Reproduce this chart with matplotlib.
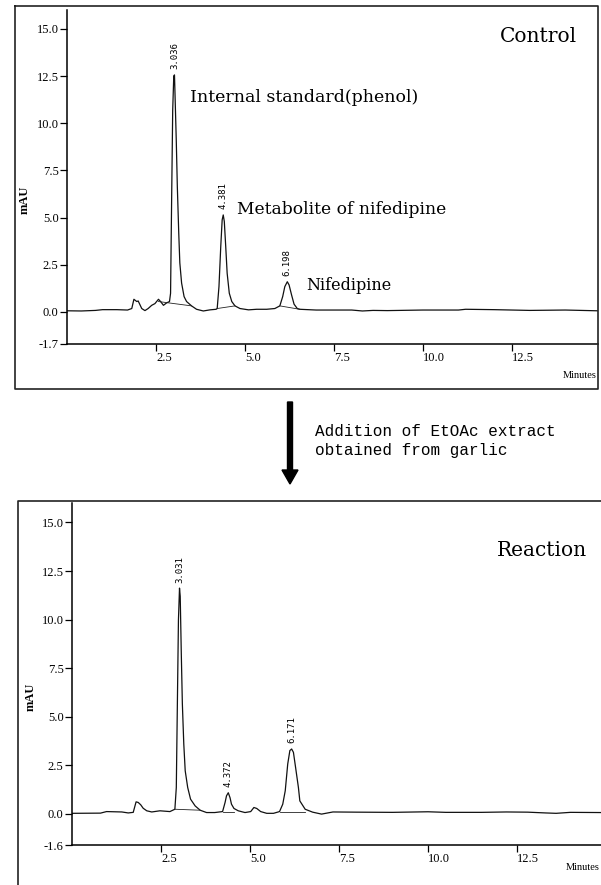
import matplotlib
matplotlib.use("Agg")
import matplotlib.pyplot as plt
from matplotlib.patches import FancyArrow

# Control run: retention time (min) and absorbance (mAU)
ctrl_time = [0.0, 0.4, 0.8, 1.0, 1.4, 1.7, 1.82, 1.88, 1.96, 2.0, 2.10, 2.19, 2.28,
             2.38, 2.47, 2.57, 2.63, 2.71, 2.80, 2.88, 2.91, 2.94, 2.97, 3.0, 3.02,
             3.04, 3.07, 3.10, 3.14, 3.17, 3.22, 3.29, 3.36, 3.5, 3.64, 3.83, 4.02,
             4.19, 4.22, 4.27, 4.32, 4.36, 4.39, 4.42, 4.46, 4.50, 4.56, 4.63, 4.72,
             4.86, 5.10, 5.33, 5.61, 5.84, 5.98, 6.06, 6.12, 6.19, 6.24, 6.31, 6.38,
             6.47, 6.54, 7.0, 8.0, 8.3, 8.6, 9.0, 10.0, 11.0, 11.2, 12.0, 13.0, 14.0, 14.9]
ctrl_mau = [0.06, 0.05, 0.08, 0.12, 0.12, 0.10, 0.18, 0.67, 0.55, 0.58, 0.18, 0.07, 0.18,
            0.35, 0.44, 0.67, 0.55, 0.35, 0.48, 0.55, 0.99, 5.94, 10.7, 12.5, 12.56,
            11.2, 9.1, 6.64, 4.17, 2.6, 1.53, 0.81, 0.55, 0.32, 0.14, 0.05, 0.11,
            0.14, 0.18, 1.34, 3.46, 4.88, 5.14, 4.79, 3.46, 2.05, 0.99, 0.55, 0.32,
            0.18, 0.11, 0.14, 0.14, 0.18, 0.32, 0.81, 1.34, 1.6, 1.43, 0.9, 0.41,
            0.18, 0.14, 0.10, 0.10, 0.05, 0.08, 0.07, 0.10, 0.10, 0.14, 0.12, 0.08, 0.10, 0.06]
ctrl_base = [(2.57, 3.5, 0.55, 0.32), (4.22, 4.72, 0.18, 0.32), (5.98, 6.54, 0.32, 0.14)]
ctrl_peaks = [3.036, 4.381, 6.198]

# Reaction run (after adding EtOAc extract of garlic)
reac_time = [0.0, 0.8, 0.97, 1.4, 1.58, 1.72, 1.80, 1.86, 1.93, 2.0, 2.10, 2.24, 2.47,
             2.75, 2.89, 2.93, 2.96, 2.99, 3.02, 3.04, 3.07, 3.10, 3.14, 3.18, 3.25,
             3.33, 3.46, 3.6, 3.78, 4.01, 4.23, 4.30, 4.34, 4.39, 4.44, 4.48, 4.55,
             4.67, 4.86, 5.02, 5.11, 5.19, 5.30, 5.47, 5.66, 5.83, 5.92, 5.99, 6.06,
             6.12, 6.17, 6.22, 6.28, 6.36, 6.40, 6.55, 6.76, 7.01, 7.33, 8.0, 9.0,
             10.0, 10.5, 11.5, 12.2, 12.8, 13.3, 13.6, 14.0, 14.86]
reac_mau = [0.03, 0.04, 0.12, 0.10, 0.05, 0.08, 0.62, 0.59, 0.47, 0.29, 0.16, 0.10, 0.16,
            0.12, 0.24, 1.36, 5.67, 9.98, 11.62, 11.2, 8.26, 5.67, 3.6, 2.22, 1.36,
            0.76, 0.41, 0.19, 0.07, 0.07, 0.12, 0.59, 0.93, 1.09, 0.83, 0.5, 0.28,
            0.16, 0.07, 0.12, 0.33, 0.28, 0.12, 0.03, 0.03, 0.12, 0.5, 1.19, 2.57,
            3.26, 3.34, 3.17, 2.4, 1.36, 0.67, 0.24, 0.09, -0.01, 0.10, 0.09, 0.08,
            0.11, 0.08, 0.08, 0.10, 0.09, 0.05, 0.03, 0.08, 0.07]
reac_base = [(2.89, 3.6, 0.24, 0.19), (4.23, 4.55, 0.12, 0.12), (5.83, 6.55, 0.12, 0.12)]
reac_peaks = [3.031, 4.372, 6.171]

x_ticks = [2.5, 5.0, 7.5, 10.0, 12.5]

fig = plt.figure(figsize=(6.01, 8.85), dpi=100)
serif = "DejaVu Serif"
tick_font = "Liberation Serif"


def draw_panel(ax, time, mau, base, peaks, ymin, xmax):
    ax.set_facecolor("none")
    ax.plot(time, mau, color="#111111", lw=0.9)
    for t0, t1, v0, v1 in base:
        ax.plot([t0, t1], [v0, v1], color="#222222", lw=0.6)
    ax.set_xlim(0, xmax)
    ax.set_ylim(ymin, 16.0)
    yt = [ymin, 0.0, 2.5, 5.0, 7.5, 10.0, 12.5, 15.0]
    ax.set_yticks(yt)
    ax.set_yticklabels([f"{v:.1f}" for v in yt], family=tick_font, fontsize=9)
    ax.set_xticks(x_ticks)
    ax.set_xticklabels([f"{v:.1f}" for v in x_ticks], family=tick_font, fontsize=9,
                       ha="left")
    ax.tick_params(axis="both", direction="out", length=5, width=0.9, pad=1)
    for s in ("top", "right"):
        ax.spines[s].set_visible(False)
    for s in ("left", "bottom"):
        ax.spines[s].set_linewidth(1.1)
    for rt in peaks:
        near = [i for i, t in enumerate(time) if abs(t - rt) < 0.15]
        i = max(near, key=lambda k: mau[k])
        ax.annotate(f"{rt:.3f}", (time[i], mau[i]), xytext=(0, 4),
                    textcoords="offset points", rotation=90, ha="center",
                    va="bottom", fontsize=6.5, family="DejaVu Sans Mono")


ax1 = fig.add_axes([67 / 601, 1 - 344 / 885, 531 / 601, 334 / 885])
draw_panel(ax1, ctrl_time, ctrl_mau, ctrl_base, ctrl_peaks, -1.7, 14.92)

ax2 = fig.add_axes([72 / 601, 1 - 845 / 885, 529 / 601, 342 / 885])
draw_panel(ax2, reac_time, reac_mau, reac_base, reac_peaks, -1.6, 14.86)

# overlay in pixel units for frames, arrow and free text
ov = fig.add_axes([0, 0, 1, 1])
ov.set_xlim(0, 601)
ov.set_ylim(885, 0)
ov.axis("off")
ov.set_facecolor("none")

ov.plot([15, 598, 598, 15, 15], [6, 6, 389, 389, 6], color="#222222", lw=1.2)
ov.plot([18, 18, 601], [885, 501, 501], color="#222222", lw=1.2)

ov.add_patch(FancyArrow(290, 402, 0, 82, width=5, head_width=16, head_length=14,
                        length_includes_head=True, color="black"))
ov.text(315, 432, "Addition of EtOAc extract", family="Liberation Mono",
        fontsize=11.5, va="center", ha="left")
ov.text(315, 450, "obtained from garlic", family="Liberation Mono",
        fontsize=11.5, va="center", ha="left")

ov.text(577, 37, "Control", family=serif, fontsize=14.5, ha="right", va="center")
ov.text(587, 550, "Reaction", family=serif, fontsize=14.5, ha="right", va="center")
ov.text(190, 98, "Internal standard(phenol)", family=serif, fontsize=12.5, va="center")
ov.text(237, 209, "Metabolite of nifedipine", family=serif, fontsize=12.3, va="center")
ov.text(306, 285, "Nifedipine", family=serif, fontsize=11.5, va="center")

ov.text(25, 200, "mAU", family=tick_font, fontweight="bold", fontsize=9,
        rotation=90, ha="center", va="center")
ov.text(31, 697, "mAU", family=tick_font, fontweight="bold", fontsize=9,
        rotation=90, ha="center", va="center")
ov.text(597, 375, "Minutes", family=tick_font, fontsize=7.5, ha="right", va="center")
ov.text(600, 868, "Minutes", family=tick_font, fontsize=7.5, ha="right", va="center")

fig.savefig("out.png", dpi=100)
